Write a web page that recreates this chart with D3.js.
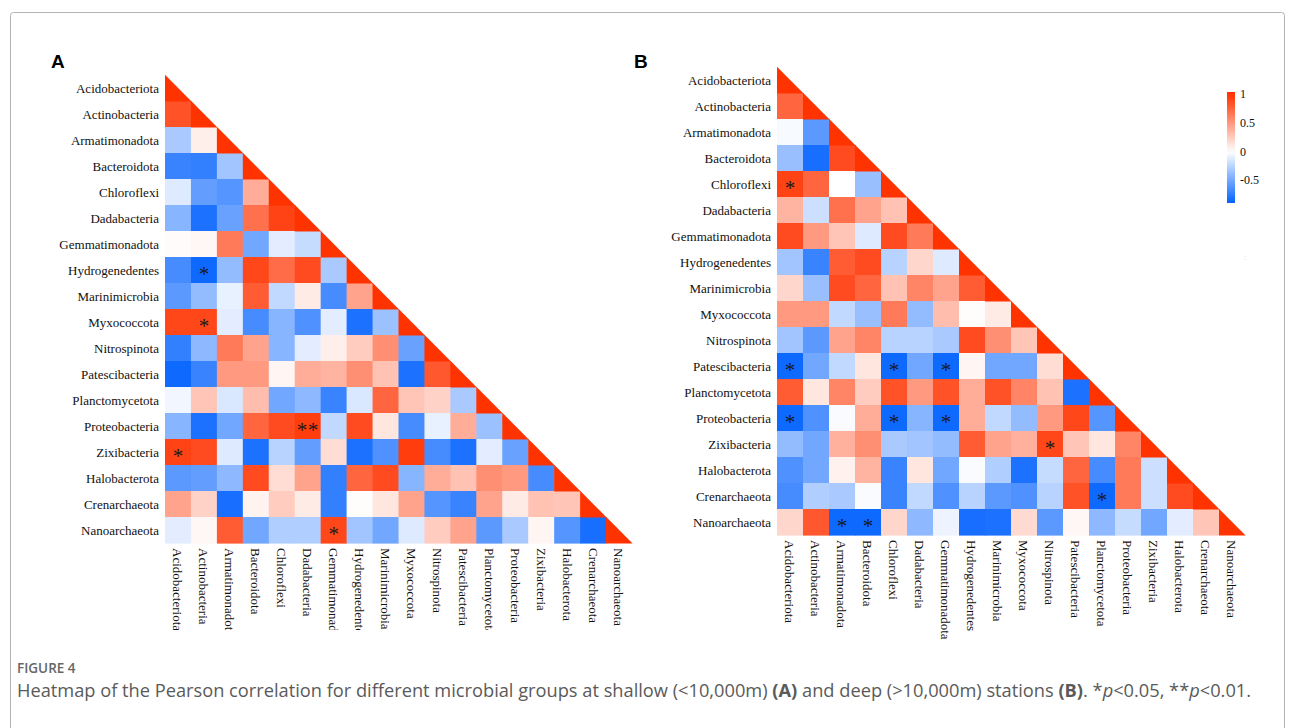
<!DOCTYPE html>
<html>
<head>
<meta charset="utf-8">
<script src="https://cdn.jsdelivr.net/npm/d3@7"></script>
<style>
  html, body { margin: 0; padding: 0; background: #fff; }
  svg { display: block; }
</style>
</head>
<body>
<svg id="chart" width="1295" height="728"></svg>
<script>
// ---------------- DATA ----------------
const taxa = ["Acidobacteriota","Actinobacteria","Armatimonadota","Bacteroidota","Chloroflexi",
  "Dadabacteria","Gemmatimonadota","Hydrogenedentes","Marinimicrobia","Myxococcota","Nitrospinota",
  "Patescibacteria","Planctomycetota","Proteobacteria","Zixibacteria","Halobacterota","Crenarchaeota",
  "Nanoarchaeota"];

// lower-triangle correlations, row i holds columns 0..i-1 (diagonal = 1)
const corrShallow = [
  [],
  [0.85],
  [-0.3, 0.08],
  [-0.7, -0.72, -0.33],
  [-0.12, -0.55, -0.6, 0.4],
  [-0.42, -0.8, -0.53, 0.7, 0.92],
  [0.02, 0.04, 0.65, -0.5, -0.1, -0.2],
  [-0.65, -0.85, -0.38, 0.9, 0.72, 0.88, -0.3],
  [-0.58, -0.38, -0.08, 0.8, -0.22, 0.1, -0.65, 0.45],
  [0.9, 0.9, -0.1, -0.65, -0.42, -0.62, -0.1, -0.8, -0.35],
  [-0.72, -0.4, 0.65, 0.45, -0.42, -0.1, 0.08, 0.25, 0.55, -0.53],
  [-0.85, -0.7, 0.5, 0.5, 0.05, 0.4, 0.37, 0.55, 0.3, -0.8, 0.82],
  [-0.05, 0.28, -0.13, 0.32, -0.5, -0.4, -0.7, -0.13, 0.75, 0.28, 0.22, -0.3],
  [-0.42, -0.8, -0.5, 0.75, 0.88, 0.95, -0.22, 0.88, 0.12, -0.65, -0.08, 0.4, -0.35],
  [0.92, 0.88, -0.12, -0.8, -0.25, -0.55, 0.17, -0.8, -0.62, 0.95, -0.65, -0.8, -0.1, -0.53],
  [-0.58, -0.55, -0.4, 0.88, 0.17, 0.45, -0.72, 0.75, 0.88, -0.42, 0.4, 0.3, 0.55, 0.5, -0.65],
  [0.45, 0.22, -0.82, 0.06, 0.25, 0.1, -0.72, 0.01, 0.12, 0.45, -0.6, -0.7, 0.45, 0.1, 0.3, 0.28],
  [-0.1, 0.04, 0.8, -0.5, -0.28, -0.28, 0.9, -0.33, -0.5, -0.12, 0.25, 0.45, -0.58, -0.3, 0.05, -0.6, -0.82]
];

const corrDeep = [
  [],
  [0.75],
  [-0.03, -0.58],
  [-0.36, -0.82, 0.88],
  [0.92, 0.75, 0.0, -0.36],
  [0.37, -0.18, 0.7, 0.45, 0.3],
  [0.88, 0.5, 0.28, -0.12, 0.88, 0.65],
  [-0.33, -0.7, 0.8, 0.88, -0.25, 0.2, -0.12],
  [0.2, -0.36, 0.88, 0.75, 0.3, 0.6, 0.45, 0.8],
  [0.5, 0.5, -0.22, -0.36, 0.65, -0.38, 0.32, 0.01, 0.1],
  [-0.33, -0.58, 0.45, 0.6, -0.25, -0.25, -0.3, 0.88, 0.55, 0.28],
  [-0.85, -0.5, -0.22, 0.12, -0.85, -0.5, -0.85, 0.05, -0.5, -0.5, 0.17],
  [0.8, 0.12, 0.6, 0.25, 0.85, 0.5, 0.85, 0.4, 0.85, 0.6, 0.3, -0.8],
  [-0.85, -0.62, -0.02, 0.4, -0.85, -0.42, -0.85, 0.4, -0.22, -0.38, 0.5, 0.9, -0.6],
  [-0.38, -0.5, 0.38, 0.55, -0.3, -0.33, -0.38, 0.8, 0.45, 0.38, 0.9, 0.28, 0.12, 0.6],
  [-0.62, -0.5, 0.07, 0.37, -0.7, 0.12, -0.5, -0.02, -0.28, -0.8, -0.2, 0.75, -0.65, 0.65, -0.18],
  [-0.65, -0.28, -0.3, -0.02, -0.7, -0.22, -0.62, -0.25, -0.58, -0.62, -0.25, 0.85, -0.85, 0.65, -0.18, 0.88],
  [0.2, 0.82, -0.85, -0.85, 0.2, -0.4, -0.06, -0.82, -0.8, 0.18, -0.58, 0.04, -0.4, -0.2, -0.5, -0.1, 0.28]
];

const sigShallow = [
  {row: "Hydrogenedentes", col: "Actinobacteria", mark: "*"},
  {row: "Myxococcota", col: "Actinobacteria", mark: "*"},
  {row: "Proteobacteria", col: "Dadabacteria", mark: "**"},
  {row: "Zixibacteria", col: "Acidobacteriota", mark: "*"},
  {row: "Nanoarchaeota", col: "Gemmatimonadota", mark: "*"}
];
const sigDeep = [
  {row: "Chloroflexi", col: "Acidobacteriota", mark: "*"},
  {row: "Patescibacteria", col: "Acidobacteriota", mark: "*"},
  {row: "Patescibacteria", col: "Chloroflexi", mark: "*"},
  {row: "Patescibacteria", col: "Gemmatimonadota", mark: "*"},
  {row: "Proteobacteria", col: "Acidobacteriota", mark: "*"},
  {row: "Proteobacteria", col: "Chloroflexi", mark: "*"},
  {row: "Proteobacteria", col: "Gemmatimonadota", mark: "*"},
  {row: "Zixibacteria", col: "Nitrospinota", mark: "*"},
  {row: "Crenarchaeota", col: "Planctomycetota", mark: "*"},
  {row: "Nanoarchaeota", col: "Armatimonadota", mark: "*"},
  {row: "Nanoarchaeota", col: "Bacteroidota", mark: "*"}
];

const legendTicks = [1, 0.5, 0, -0.5];
const legendRange = [-0.89, 1.05];

// ---------------- DRAW ----------------
const svg = d3.select("#chart");
const color = d3.scaleLinear().domain([-0.9, 0, 1]).range(["#0060ff", "#ffffff", "#ff3300"]).clamp(true);

// frame
svg.append("rect").attr("x", 10.5).attr("y", 12.5).attr("width", 1274).attr("height", 740)
  .attr("rx", 3).attr("fill", "none").attr("stroke", "#b4b4b4").attr("stroke-width", 1);

function panel(opts) {
  const {corr, sig, x0, x1, y0, y1, letter, letterX, letterY, clipBottom, id} = opts;
  const g = svg.append("g");
  const x = d3.scaleBand().domain(taxa).range([x0, x1]);
  const y = d3.scaleBand().domain(taxa).range([y0, y1]);
  const bw = x.bandwidth(), bh = y.bandwidth();

  const cells = [];
  corr.forEach((vals, i) => vals.forEach((v, j) => cells.push({r: taxa[i], c: taxa[j], v})));

  g.selectAll("rect.cell").data(cells).join("rect").attr("class", "cell")
    .attr("x", d => x(d.c)).attr("y", d => y(d.r))
    .attr("width", bw + 0.6).attr("height", bh + 0.6)
    .attr("fill", d => color(d.v));

  // diagonal (value 1) drawn as lower-left triangles
  g.selectAll("path.diag").data(taxa).join("path").attr("class", "diag")
    .attr("d", t => {
      const xx = x(t), yy = y(t);
      return `M${xx},${yy - 0.3}L${xx},${yy + bh + 0.6}L${xx + bw + 0.6},${yy + bh + 0.6}Z`;
    })
    .attr("fill", color(1));

  // significance marks
  g.selectAll("text.sig").data(sig).join("text").attr("class", "sig")
    .attr("x", d => x(d.col) + bw / 2).attr("y", d => y(d.row) + bh / 2)
    .attr("dy", "0.52em").attr("text-anchor", "middle")
    .attr("font-family", "Liberation Serif, serif").attr("font-size", 21)
    .attr("letter-spacing", d => d.mark.length > 1 ? 0.5 : 0)
    .attr("fill", "#1a1a1a").text(d => d.mark);

  // row labels
  g.selectAll("text.rowlab").data(taxa).join("text").attr("class", "rowlab")
    .attr("x", x0 - 6).attr("y", t => y(t) + bh / 2).attr("dy", "0.35em")
    .attr("text-anchor", "end").attr("font-family", "Liberation Serif, serif")
    .attr("font-size", 13).attr("fill", "#111").text(t => t);

  // column labels
  if (clipBottom) {
    svg.append("clipPath").attr("id", id).append("rect")
      .attr("x", x0 - 20).attr("y", y1).attr("width", x1 - x0 + 40).attr("height", clipBottom - y1);
  }
  const cl = g.append("g");
  if (clipBottom) cl.attr("clip-path", `url(#${id})`);
  cl.selectAll("text.collab").data(taxa).join("text").attr("class", "collab")
    .attr("transform", t => `translate(${x(t) + bw / 2},${y1 + 5}) rotate(90)`)
    .attr("dy", "0.35em").attr("text-anchor", "start")
    .attr("font-family", "Liberation Serif, serif").attr("font-size", 13)
    .attr("fill", "#111").text(t => t);

  svg.append("text").attr("x", letterX).attr("y", letterY)
    .attr("font-family", "Liberation Sans, Arial, sans-serif").attr("font-weight", "bold")
    .attr("font-size", 19).attr("fill", "#000").text(letter);
}

panel({corr: corrShallow, sig: sigShallow, x0: 165, x1: 632, y0: 75, y1: 543,
  letter: "A", letterX: 51, letterY: 68, clipBottom: 630, id: "clipA"});
panel({corr: corrDeep, sig: sigDeep, x0: 777, x1: 1245, y0: 67, y1: 535,
  letter: "B", letterX: 634, letterY: 68, clipBottom: null, id: "clipB"});

// legend
const lg = svg.append("g");
const ly = d3.scaleLinear().domain(legendRange).range([203, 92]);
const grad = svg.append("defs").append("linearGradient").attr("id", "lgrad")
  .attr("x1", 0).attr("y1", 1).attr("x2", 0).attr("y2", 0);
d3.range(0, 1.0001, 0.05).forEach(t => {
  const v = legendRange[0] + t * (legendRange[1] - legendRange[0]);
  grad.append("stop").attr("offset", t).attr("stop-color", color(v));
});
lg.append("rect").attr("x", 1227).attr("y", ly(legendRange[1])).attr("width", 8)
  .attr("height", ly(legendRange[0]) - ly(legendRange[1])).attr("fill", "url(#lgrad)");
lg.selectAll("text").data(legendTicks).join("text")
  .attr("x", 1240).attr("y", d => ly(d)).attr("dy", "0.3em")
  .attr("font-family", "Liberation Serif, serif").attr("font-size", 12).attr("fill", "#111")
  .text(d => d);
svg.append("text").attr("x", 1244).attr("y", 260).attr("font-size", 8).attr("fill", "#ccc")
  .attr("font-family", "Liberation Sans, sans-serif").text(":");

// caption
svg.append("text").attr("x", 17).attr("y", 673)
  .attr("font-family", "Open Sans, sans-serif").attr("font-weight", 600)
  .attr("font-size", 13.5).attr("fill", "#666").text("FIGURE 4");

const cap = svg.append("text").attr("x", 17).attr("y", 697)
  .attr("font-family", "Open Sans, sans-serif").attr("font-size", 14.5).attr("fill", "#5a5a5a");
const parts = [
  ["Heatmap of the Pearson correlation for different microbial groups at shallow (<10,000m) ", ""],
  ["(A)", "b"], [" and deep (>10,000m) stations ", ""], ["(B)", "b"], [". *", ""], ["p", "i"],
  ["<0.05, **", ""], ["p", "i"], ["<0.01.", ""]
];
parts.forEach(([t, s]) => {
  const ts = cap.append("tspan").text(t);
  if (s === "b") ts.attr("font-weight", "bold");
  if (s === "i") ts.attr("font-style", "italic");
});
const len = cap.node().getComputedTextLength();
cap.attr("font-size", 14.5 * 1235 / len);
</script>
</body>
</html>
